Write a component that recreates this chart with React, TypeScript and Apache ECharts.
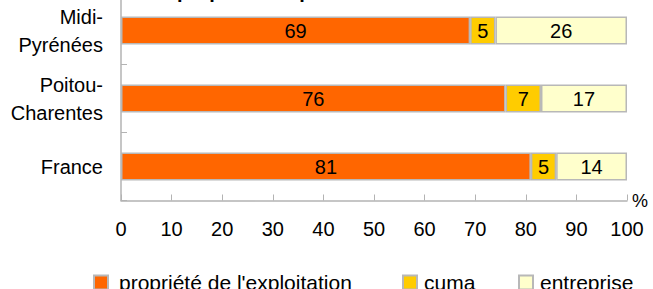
import React, { useEffect, useRef } from "react";
import * as echarts from "echarts";

const categories = ["Midi-\nPyrénées", "Poitou-\nCharentes", "France"];
const seriesNames = ["propriété de l'exploitation", "cuma", "entreprise"];
const proprieteValues = [69, 76, 81];
const cumaValues = [5, 7, 5];
const entrepriseValues = [26, 17, 14];
const colors = ["#FF6600", "#FFCC00", "#FFFFCC"];
const titleText = "propriété du pulvérisateur";
const FONT = "Liberation Sans, Arial, sans-serif";
const legendLefts = [88, 397, 513];

export default function App() {
  const ref = useRef<HTMLDivElement>(null);
  useEffect(() => {
    if (!ref.current) return;
    const chart = echarts.init(ref.current, null, { renderer: "svg" });
    const allValues = [proprieteValues, cumaValues, entrepriseValues];
    chart.setOption({
      animation: false,
      textStyle: { fontFamily: FONT },
      graphic: [
        {
          type: "text",
          x: 177,
          y: -19.5,
          style: {
            text: titleText,
            font: `bold 20px ${FONT}`,
            fill: "#000",
            verticalAlign: "top",
            textVerticalAlign: "top",
          },
        },
      ],
      grid: {
        left: 121,
        right: 26,
        top: -3.5,
        bottom: 88.5,
        containLabel: false,
        outerBoundsMode: "none",
      },
      legend: seriesNames.map((name, i) => ({
        left: legendLefts[i],
        top: 267,
        itemWidth: 14,
        itemHeight: 14,
        icon: "rect",
        textStyle: {
          fontSize: 21,
          color: "#000",
          fontFamily: FONT,
          lineHeight: 20,
          padding: [0, 0, 0, i === 0 ? 6 : 2],
        },
        data: [name],
      })),
      xAxis: {
        type: "value",
        min: 0,
        max: 100,
        interval: 10,
        name: "%",
        nameLocation: "end",
        nameGap: 5,
        nameMoveOverlap: false,
        nameTextStyle: {
          fontSize: 18,
          color: "#000",
          fontFamily: FONT,
          verticalAlign: "middle",
          align: "left",
          padding: [0, 0, 10, 0],
        },
        axisLine: { show: true, lineStyle: { color: "#b3b3b3", width: 1.5 } },
        axisTick: { show: true, inside: true, length: 6, lineStyle: { color: "#b3b3b3" } },
        splitLine: { show: false },
        axisLabel: { fontSize: 20, color: "#000", margin: 18, fontFamily: FONT },
      },
      yAxis: {
        type: "category",
        inverse: true,
        data: categories,
        axisLine: { show: true, lineStyle: { color: "#b3b3b3", width: 1.5 } },
        axisTick: { show: true, inside: true, length: 6, lineStyle: { color: "#b3b3b3" } },
        axisLabel: {
          fontSize: 20,
          color: "#000",
          margin: 18,
          lineHeight: 28,
          align: "right",
          fontFamily: FONT,
        },
      },
      series: seriesNames.map((name, i) => ({
        name,
        type: "bar",
        stack: "total",
        barWidth: 28,
        data: allValues[i],
        itemStyle: { color: colors[i], borderColor: "#b8b8b8", borderWidth: 1.5 },
        label: {
          show: true,
          position: "inside",
          color: "#000",
          fontSize: 20,
          fontFamily: FONT,
        },
      })),
    });
    return () => chart.dispose();
  }, []);
  return <div ref={ref} style={{ width: 653, height: 289, position: "absolute", left: 0, top: 0 }} />;
}
